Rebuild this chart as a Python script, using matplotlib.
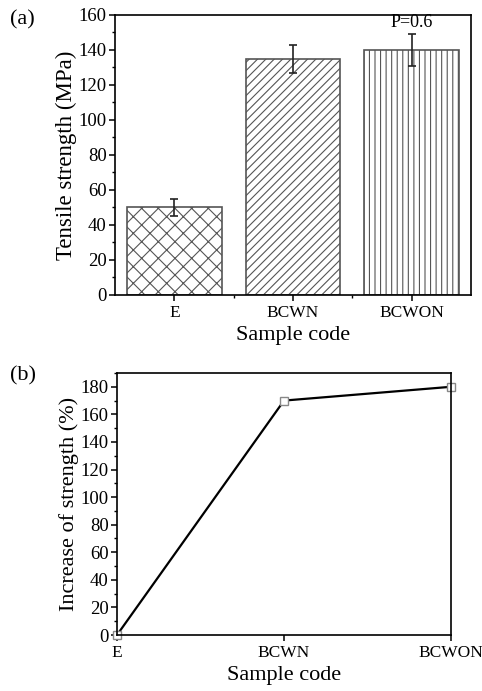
import matplotlib
matplotlib.use("Agg")
import matplotlib.pyplot as plt
from matplotlib.ticker import MultipleLocator
import numpy as np


# =========================
# DATA
# =========================

samples = ["E", "BCWN", "BCWON"]

tensile = [50, 135, 140]
tensile_err = [5, 8, 9]

increase = [0, 170, 180]

hatches = ["xx", "////", "|||"]


# =========================
# STYLE
# =========================

plt.rcParams["font.family"] = ["Liberation Serif", "DejaVu Serif"]
plt.rcParams["hatch.linewidth"] = 0.8
plt.rcParams["axes.linewidth"] = 1.2

fig = plt.figure(figsize=(4.82, 6.91), dpi=100)


# =========================
# (a) BAR CHART
# =========================

ax1 = fig.add_axes([0.2386, 0.5731, 0.7386, 0.4052])

x = np.arange(len(samples))

for i in range(len(samples)):
    ax1.bar(
        x[i],
        tensile[i],
        0.8,
        color="white",
        edgecolor="#555555",
        hatch=hatches[i],
        linewidth=1.2,
    )

ax1.errorbar(
    x,
    tensile,
    yerr=tensile_err,
    fmt="none",
    ecolor="#222222",
    elinewidth=1.2,
    capsize=3,
    capthick=1.2,
)

ax1.text(x[2], 151, "P=0.6", ha="center", va="bottom", fontsize=13)

ax1.set_xlim(-0.5, 2.5)
ax1.set_ylim(0, 160)
ax1.set_xticks(x)
ax1.set_xticklabels(samples)
ax1.set_xticks([0.5, 1.5], minor=True)
ax1.yaxis.set_major_locator(MultipleLocator(20))
ax1.yaxis.set_minor_locator(MultipleLocator(10))
ax1.tick_params(axis="both", which="major", direction="out", length=4,
                width=1.1)
ax1.tick_params(axis="y", labelsize=13.5, pad=2)
ax1.tick_params(axis="x", labelsize=12.5)
ax1.tick_params(axis="both", which="minor", direction="out", length=2.5,
                width=1.0)
ax1.set_ylabel("Tensile strength (MPa)", fontsize=16.5, labelpad=1)
ax1.set_xlabel("Sample code", fontsize=16, labelpad=3)

fig.text(0.02, 0.965, "(a)", fontsize=16)


# =========================
# (b) LINE CHART
# =========================

ax2 = fig.add_axes([0.2427, 0.081, 0.693, 0.3792])

ax2.plot(
    x,
    increase,
    color="black",
    linewidth=1.6,
    marker="s",
    markersize=6,
    markerfacecolor="white",
    markeredgecolor="#888888",
    markeredgewidth=1.0,
    clip_on=False,
)

ax2.set_xlim(0, 2)
ax2.set_ylim(0, 190)
ax2.set_xticks(x)
ax2.set_xticklabels(samples)
ax2.yaxis.set_major_locator(MultipleLocator(20))
ax2.yaxis.set_minor_locator(MultipleLocator(10))
ax2.tick_params(axis="both", which="major", direction="out", length=4,
                width=1.1)
ax2.tick_params(axis="y", labelsize=13.5, pad=2)
ax2.tick_params(axis="x", labelsize=12.5)
ax2.tick_params(axis="y", which="minor", direction="out", length=2.5,
                width=1.0)
ax2.set_ylabel("Increase of strength (%)", fontsize=16, labelpad=1)
ax2.set_xlabel("Sample code", fontsize=16, labelpad=3)

fig.text(0.02, 0.45, "(b)", fontsize=16)


# =========================
# SAVE FIGURE
# =========================

plt.savefig("out.png", dpi=100)
